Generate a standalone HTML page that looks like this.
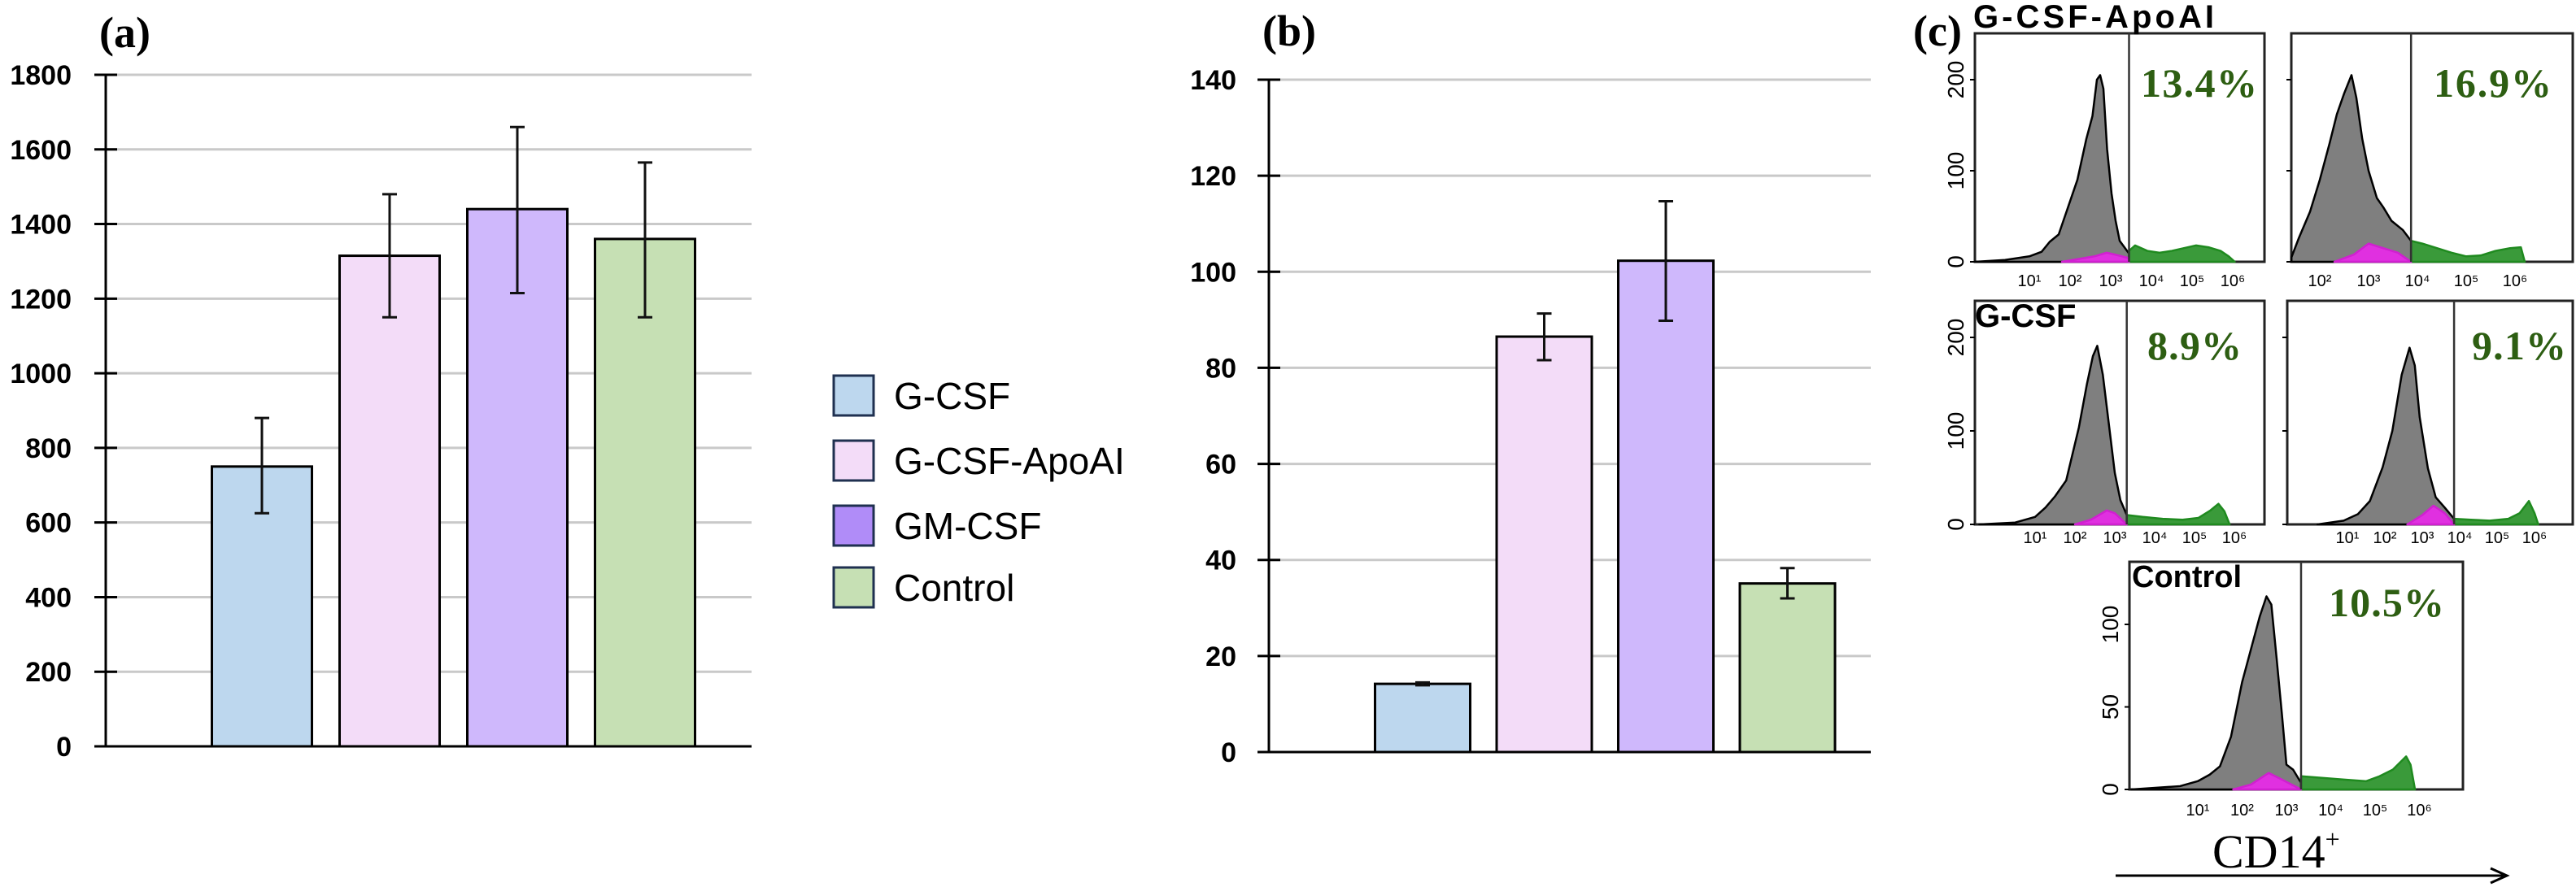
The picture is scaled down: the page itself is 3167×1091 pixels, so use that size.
<!DOCTYPE html>
<html><head><meta charset="utf-8">
<style>
html,body{margin:0;padding:0;background:#fff;}
svg{display:block;}
</style></head>
<body>
<svg id="fig" width="3167" height="1091" viewBox="0 0 3167 1091" xmlns="http://www.w3.org/2000/svg">
<g id="pa"></g>
<g id="pb"></g>
<g id="leg"></g>
<g id="pc"></g>
<text x="122" y="58" font-family="Liberation Serif, serif" font-weight="bold" font-size="54">(a)</text>
<text x="1552" y="56" font-family="Liberation Serif, serif" font-weight="bold" font-size="54">(b)</text>
<text x="2352" y="56" font-family="Liberation Serif, serif" font-weight="bold" font-size="54">(c)</text>
</svg>
<script>
const NS="http://www.w3.org/2000/svg";
// ---- Data ----
const categories=["G-CSF","G-CSF-ApoAI","GM-CSF","Control"];
const fills=["#bdd7ee","#f3dcf8","#cfb8fc","#c6e0b4"];
const legendFills=["#bdd7ee","#f3dcf8","#b08cf8","#c6e0b4"];
const aValues=[750,1315,1440,1360];
const aErrLow=[625,1150,1215,1150];
const aErrHigh=[880,1480,1660,1565];
const aTicks=[0,200,400,600,800,1000,1200,1400,1600,1800];
const bValues=[14.2,86.5,102.3,35.1];
const bErrLow=[13.9,81.6,89.8,32.0];
const bErrHigh=[14.5,91.3,114.7,38.3];
const bTicks=[0,20,40,60,80,100,120,140];

function mk(tag,attrs,parent){const e=document.createElementNS(NS,tag);for(const k in attrs)e.setAttribute(k,attrs[k]);parent.appendChild(e);return e;}

function barChart(g,cfg,vals,lo,hi,ticks,pre){
  const y=v=>cfg.y0-(v-cfg.vmin)/(cfg.vmax-cfg.vmin)*(cfg.y0-cfg.y1);
  const x=i=>cfg.c0+i*cfg.step;
  ticks.forEach(t=>{
    const gl=mk('line',{x1:cfg.ax,x2:cfg.gx,y1:y(t),y2:y(t),stroke:'#c9c9c9','stroke-width':3},g);
    
    
    const tk=mk('line',{x1:cfg.ax-14,x2:cfg.ax+14,y1:y(t),y2:y(t),stroke:'#000','stroke-width':3},g);
    
    
    const tl=mk('text',{x:cfg.lx,y:y(t)+12,'text-anchor':'end','font-family':'Liberation Sans, sans-serif','font-weight':'bold','font-size':34},g);
    tl.textContent=t;
    
    
  });
  const axl=mk('line',{x1:cfg.ax,x2:cfg.ax,y1:y(ticks[ticks.length-1]),y2:y(0),stroke:'#000','stroke-width':3},g);
  
  
  const bx=mk('line',{x1:cfg.ax,x2:cfg.gx,y1:y(0),y2:y(0),stroke:'#000','stroke-width':3},g);
  
  
  vals.forEach((v,i)=>{
    const r=mk('rect',{x:x(i)-cfg.bw/2,y:y(v),width:cfg.bw,height:y(0)-y(v),fill:fills[i],stroke:'#000','stroke-width':3},g);
    
    
    const e=mk('path',{d:`M${x(i)},${y(hi[i])}V${y(lo[i])}M${x(i)-9},${y(hi[i])}h18M${x(i)-9},${y(lo[i])}h18`,stroke:'#111','stroke-width':3,fill:'none'},g);
    
    
  });
}
barChart(document.getElementById('pa'),{ax:130,gx:924,lx:88,y0:918,y1:92,vmin:0,vmax:1800,c0:322,step:157,bw:123},aValues,aErrLow,aErrHigh,aTicks,'a');
barChart(document.getElementById('pb'),{ax:1560,gx:2300,lx:1520,y0:925,y1:98,vmin:0,vmax:140,c0:1749,step:149.5,bw:117},bValues,bErrLow,bErrHigh,bTicks,'b');

// legend
const leg=document.getElementById('leg');
const legY=[487,567,647,723];
categories.forEach((c,i)=>{
  const r=mk('rect',{x:1025,y:legY[i]-25,width:49,height:49,fill:legendFills[i],stroke:'#1f3050','stroke-width':3},leg);
  
  
  const t=mk('text',{x:1099,y:legY[i]+16,'font-family':'Liberation Sans, sans-serif','font-size':46},leg);
  t.textContent=c;
  
  
});

// ---- Flow histograms data (log10 position, count) ----
const h1GrayLog=[-0.4,0.4,1.0,1.3,1.5,1.72,1.95,2.18,2.4,2.55,2.66,2.74,2.82,2.91,3.02,3.12,3.22,3.45];
const h1GrayCnt=[0,2,6,11,22,30,60,90,135,160,200,205,190,124,75,45,23,9];
const h1GreenLog=[3.45,3.6,3.9,4.2,4.5,4.8,5.1,5.4,5.7,5.9,6.05];
const h1GreenCnt=[12,18,12,10,12,15,18,16,12,6,0];
const h1MagLog=[1.8,2.2,2.6,2.9,3.1,3.45];
const h1MagCnt=[0,3,6,10,8,4];
const h2GrayLog=[1.42,1.57,1.8,2.0,2.2,2.35,2.5,2.65,2.75,2.87,3.0,3.17,3.3,3.47,3.7,3.87];
const h2GrayCnt=[5,26,55,90,130,162,185,205,180,135,100,70,60,45,35,23];
const h2GreenLog=[3.87,4.1,4.4,4.7,5.0,5.3,5.6,5.9,6.12,6.2];
const h2GreenCnt=[23,20,15,10,6,7,12,15,16,0];
const h2MagLog=[2.3,2.7,3.0,3.3,3.6,3.87];
const h2MagCnt=[0,8,20,15,10,0];
const h3GrayLog=[-0.4,0.5,1.0,1.26,1.5,1.78,2.1,2.3,2.45,2.56,2.7,2.88,3.0,3.14,3.3];
const h3GrayCnt=[0,2,8,18,30,47,104,150,180,191,160,97,55,26,10];
const h3GreenLog=[3.3,3.7,4.2,4.7,5.1,5.4,5.6,5.75,5.88];
const h3GreenCnt=[10,8,6,5,7,15,22,14,0];
const h3MagLog=[2.0,2.4,2.8,3.0,3.3];
const h3MagCnt=[0,5,15,12,0];
const h4GrayLog=[0.2,0.9,1.28,1.6,1.94,2.2,2.45,2.66,2.8,2.93,3.15,3.36,3.6,3.85];
const h4GrayCnt=[0,4,11,25,61,100,160,189,170,115,60,29,18,6];
const h4GreenLog=[3.85,4.3,4.8,5.3,5.6,5.85,6.0,6.1];
const h4GreenCnt=[6,5,4,6,12,25,12,0];
const h4MagLog=[2.6,3.0,3.3,3.6,3.85];
const h4MagCnt=[0,10,20,12,0];
const h5GrayLog=[-0.5,0.6,1.0,1.27,1.5,1.75,2.0,2.2,2.4,2.55,2.66,2.78,2.9,3.0,3.15,3.33];
const h5GrayCnt=[0,2,5,9,14,32,65,85,105,117,112,79,45,15,12,4];
const h5GreenLog=[3.33,3.8,4.3,4.8,5.1,5.4,5.7,5.8,5.9];
const h5GreenCnt=[8,7,6,5,8,12,20,15,0];
const h5MagLog=[1.8,2.2,2.6,2.9,3.33];
const h5MagCnt=[0,3,10,6,0];
const xTickLabels=["1","2","3","4","5","6"];
const sup={"1":"¹","2":"²","3":"³","4":"⁴","5":"⁵","6":"⁶"};

const pc=document.getElementById('pc');
function hist(name,box,x10,dec,yZero,pxPer,gate,yTicks,tickLabelsX,tickLabelOffs,gray,green,mag,showYLabels,labelY){
  const X=l=>x10+(l-1)*dec, Y=c=>yZero-c*pxPer;
  const clampX=v=>Math.max(box.x,Math.min(box.x+box.w,v));
  const g=mk('g',{},pc);
  
  
  const fr=mk('rect',{x:box.x,y:box.y,width:box.w,height:yZero-box.y,fill:'#fff',stroke:'#222','stroke-width':3},g);
  
  
  function area(ls,cs,fill,stroke,nm){
    let d=`M${clampX(X(ls[0]))},${yZero}`;
    ls.forEach((l,i)=>{d+=`L${clampX(X(l))},${Y(cs[i])}`;});
    d+=`L${clampX(X(ls[ls.length-1]))},${yZero}Z`;
    const p=mk('path',{d:d,fill:fill,stroke:stroke,'stroke-width':2.5,'stroke-linejoin':'round'},g);
    
    
  }
  area(gray[0],gray[1],'#7f7f7f','#000',name+'-negative-population');
  area(green[0],green[1],'#3a9a3a','#1f8a1f',name+'-cd14-positive-population');
  area(mag[0],mag[1],'#e030e0','#d020d0',name+'-isotype-overlay');
  const gl=mk('line',{x1:X(gate),x2:X(gate),y1:box.y,y2:yZero,stroke:'#333','stroke-width':2.5},g);
  
  
  yTicks.forEach(t=>{
    const tk=mk('line',{x1:box.x-6,x2:box.x,y1:Y(t),y2:Y(t),stroke:'#000','stroke-width':2},g);
    
    
    if(showYLabels){
      const tl=mk('text',{x:0,y:0,transform:`translate(${box.x-14},${Y(t)}) rotate(-90)`,'text-anchor':'middle','font-family':'Liberation Sans, sans-serif','font-size':28},g);
      tl.textContent=t;
      
      
    }
  });
  tickLabelsX.forEach((k,i)=>{
    const t=mk('text',{x:X(+k)+tickLabelOffs,y:labelY,'text-anchor':'middle','font-family':'Liberation Sans Narrow, Liberation Sans, sans-serif','font-size':20},g);
    t.textContent='10'+sup[k];
    
    
  });
  return g;
}
hist('hist-gcsf-apoai-1',{x:2428,y:41,w:356},2495,50,322,1.12,3.45,[0,100,200],xTickLabels,0,[h1GrayLog,h1GrayCnt],[h1GreenLog,h1GreenCnt],[h1MagLog,h1MagCnt],true,352);
hist('hist-gcsf-apoai-2',{x:2817,y:41,w:346},2792,60,322,1.12,3.87,[0,100,200],["2","3","4","5","6"],0,[h2GrayLog,h2GrayCnt],[h2GreenLog,h2GreenCnt],[h2MagLog,h2MagCnt],false,352);
hist('hist-gcsf-1',{x:2428,y:370,w:356},2502,49,645,1.15,3.3,[0,100,200],xTickLabels,0,[h3GrayLog,h3GrayCnt],[h3GreenLog,h3GreenCnt],[h3MagLog,h3MagCnt],true,668);
hist('hist-gcsf-2',{x:2812,y:370,w:351},2886,46,645,1.15,3.85,[0,100,200],xTickLabels,0,[h4GrayLog,h4GrayCnt],[h4GreenLog,h4GreenCnt],[h4MagLog,h4MagCnt],false,668);
hist('hist-control',{x:2618,y:691,w:410},2702,54.5,971,2.03,3.33,[0,50,100],xTickLabels,0,[h5GrayLog,h5GrayCnt],[h5GreenLog,h5GreenCnt],[h5MagLog,h5MagCnt],true,1003);

function txt(s,a,name){const t=mk('text',a,pc);t.textContent=s;return t;}
const sans={'font-family':'Liberation Sans, sans-serif','font-weight':'bold'};
const serifG={'font-family':'Liberation Serif, serif','font-weight':'bold','fill':'#2d5e12','font-size':50};
txt('G-CSF-ApoAI',Object.assign({x:2426,y:34,'font-size':40,textLength:296},sans),'group-label-gcsf-apoai');
txt('G-CSF',Object.assign({x:2428,y:402,'font-size':40},sans),'group-label-gcsf');
txt('Control',Object.assign({x:2621,y:722,'font-size':38},sans),'group-label-control');
txt('13.4%',Object.assign({x:2632,y:119,textLength:143},serifG),'percent-gcsf-apoai-1');
txt('16.9%',Object.assign({x:2992,y:119,textLength:145},serifG),'percent-gcsf-apoai-2');
txt('8.9%',Object.assign({x:2640,y:442,textLength:116},serifG),'percent-gcsf-1');
txt('9.1%',Object.assign({x:3039,y:442,textLength:116},serifG),'percent-gcsf-2');
txt('10.5%',Object.assign({x:2863,y:758,textLength:142},serifG),'percent-control');
const cd=txt('CD14',{x:2720,y:1067,'font-family':'Liberation Serif, serif','font-size':58},'x-axis-title-cd14');
const sp=mk('tspan',{dy:-24,'font-size':32},cd);sp.textContent='+';
const ar=mk('path',{d:'M2601,1077H3078M3062,1068L3082,1077L3062,1086',stroke:'#000','stroke-width':3,fill:'none'},pc);


</script>
</body></html>
